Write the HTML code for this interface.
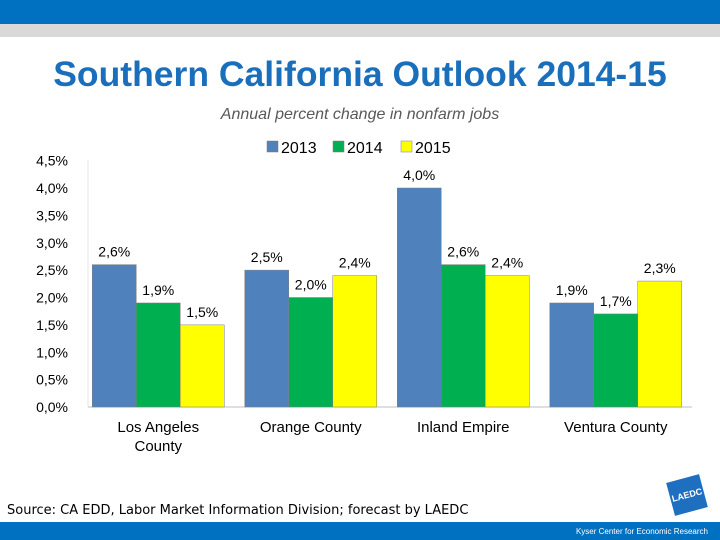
<!DOCTYPE html>
<html><head><meta charset="utf-8"><style>
body{margin:0;width:720px;height:540px;overflow:hidden;background:#fff;font-family:"Liberation Sans",sans-serif;position:relative}
</style></head><body>
<div style="position:absolute;left:0;top:0;width:720px;height:24px;background:#0070c0"></div>
<div style="position:absolute;left:0;top:24px;width:720px;height:13px;background:#d9d9d9"></div>
<div style="position:absolute;left:0;top:54px;width:720px;text-align:center;font-size:35.5px;font-weight:bold;color:#1a6fbd">Southern California Outlook 2014-15</div>
<div style="position:absolute;left:0;top:106px;width:720px;text-align:center;font-size:16px;font-style:italic;color:#595959">Annual percent change in nonfarm jobs</div>
<svg id="chart" width="720" height="540" style="position:absolute;left:0;top:0"></svg>
<div style="position:absolute;left:7px;top:503px;font-family:'DejaVu Sans',sans-serif;font-size:13px;color:#000">Source: CA EDD, Labor Market Information Division; forecast by LAEDC</div>
<div style="position:absolute;left:670px;top:478px;width:34px;height:34px;background:#1f6fc0;transform:rotate(-15deg);color:#fff;font-size:9px;font-weight:bold;line-height:34px;text-align:center">LAEDC</div>
<div style="position:absolute;left:0;top:522px;width:720px;height:18px;background:#0070c0"></div>
<div style="position:absolute;right:12px;top:527px;font-size:8px;color:#fff">Kyser Center for Economic Research</div>
<script>
const categories=["Los Angeles|County","Orange County","Inland Empire","Ventura County"];
const seriesNames=["2013","2014","2015"];
const v2013=[2.6,2.5,4.0,1.9];
const v2014=[1.9,2.0,2.6,1.7];
const v2015=[1.5,2.4,2.4,2.3];
const yTicks=[0,0.5,1,1.5,2,2.5,3,3.5,4,4.5];
const colors=["#4f81bd","#00b050","#ffff00"];
const NS="http://www.w3.org/2000/svg";
const svg=document.getElementById("chart");
const x0=82,x1=692,yBase=407,pxPer=54.75;
const y=v=>yBase-v*pxPer;
const gw=(x1-x0)/categories.length,bw=44;
function mk(t,a){const e=document.createElementNS(NS,t);for(const k in a)e.setAttribute(k,a[k]);svg.appendChild(e);return e;}
yTicks.forEach(t=>{const e=mk("text",{x:68,y:y(t)+5,"text-anchor":"end","font-size":14,fill:"#000"});


e.textContent=t.toFixed(1).replace(".",",")+"%";});
const ax=mk("line",{x1:88,x2:88,y1:y(4.5),y2:yBase,stroke:"#e6e6e6"});


const bl=mk("line",{x1:88,x2:x1,y1:yBase,y2:yBase,stroke:"#bfbfbf"});


const series=[v2013,v2014,v2015];
categories.forEach((c,i)=>{
 const gx=x0+i*gw+(gw-3*bw)/2;
 series.forEach((s,j)=>{
  const bx=gx+j*bw;
  const r=mk("rect",{x:bx,y:y(s[i]),width:bw,height:s[i]*pxPer,fill:colors[j],stroke:"#7f7f7f","stroke-width":0.5});
  
  
  const l=mk("text",{x:bx+bw/2,y:y(s[i])-8,"text-anchor":"middle","font-size":14,fill:"#000"});
  
  
  l.textContent=s[i].toFixed(1).replace(".",",")+"%";
 });
 c.split("|").forEach((ln,k)=>{const t=mk("text",{x:x0+i*gw+gw/2,y:432+k*19,"text-anchor":"middle","font-size":15,fill:"#000"});
 
 
 t.textContent=ln;});
});
const lx=[267,333,401];
seriesNames.forEach((n,j)=>{
 const r=mk("rect",{x:lx[j],y:141,width:11,height:11,fill:colors[j],stroke:"#7f7f7f","stroke-width":0.5});
 
 
 const t=mk("text",{x:lx[j]+14,y:153,"font-size":16,fill:"#000"});
 
 
 t.textContent=n;
});
</script>
</body></html>
